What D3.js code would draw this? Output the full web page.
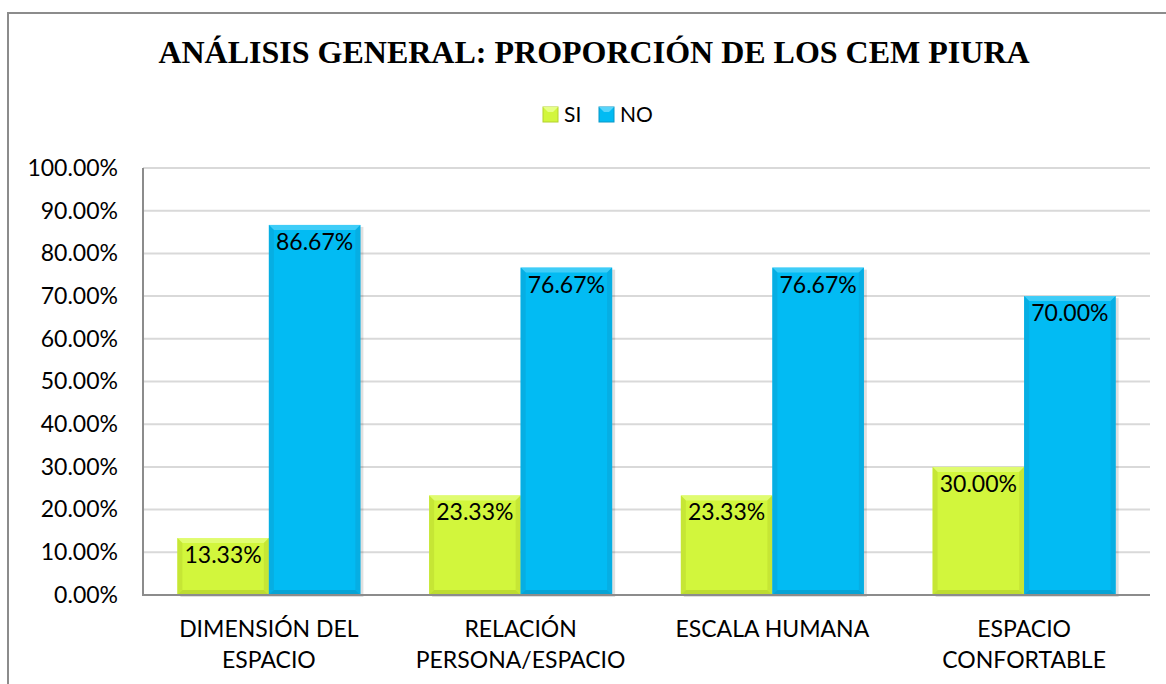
<!DOCTYPE html>
<html>
<head>
<meta charset="utf-8">
<script src="https://cdn.jsdelivr.net/npm/d3@7"></script>
<style>
  body { margin: 0; background: #fff; }
  svg { display: block; }
</style>
</head>
<body>
<svg></svg>
<script>
const categories = [
  ['DIMENSIÓN DEL', 'ESPACIO'],
  ['RELACIÓN', 'PERSONA/ESPACIO'],
  ['ESCALA HUMANA'],
  ['ESPACIO', 'CONFORTABLE']
];
const series = ['SI', 'NO'];
const siValues = [0.1333, 0.2333, 0.2333, 0.30];
const noValues = [0.8667, 0.7667, 0.7667, 0.70];
const yTicks = [0, 0.1, 0.2, 0.3, 0.4, 0.5, 0.6, 0.7, 0.8, 0.9, 1.0];

const svgWidth = 1166;
const svgHeight = 684;
const plot = { left: 143, right: 1150, top: 168, bottom: 595 };

const colors = {
  SI: { body: '#d2f63c', top: '#e6ff86', side: '#c0e032', bottom: '#b4d22c' },
  NO: { body: '#02bbf3', top: '#58d4fa', side: '#08a8dc', bottom: '#0898c8' }
};

const labelFont = 'Lato, "Open Sans", sans-serif';

const svg = d3.select('svg')
    .attr('width', svgWidth)
    .attr('height', svgHeight);

// outer frame (runs off the right and bottom edge)
svg.append('rect')
    .attr('x', 8)
    .attr('y', 13)
    .attr('width', 1200)
    .attr('height', 720)
    .attr('fill', 'none')
    .attr('stroke', '#8c8c8c')
    .attr('stroke-width', 2);

const data = categories.map((c, i) => ({ cat: i, label: c, SI: siValues[i], NO: noValues[i] }));

const x0 = d3.scaleBand()
    .domain(data.map(d => d.cat))
    .range([plot.left, plot.right])
    .paddingInner(0.273)
    .paddingOuter(0.1365);

const x1 = d3.scaleBand()
    .domain(series)
    .range([0, x0.bandwidth()])
    .padding(0);

const y = d3.scaleLinear()
    .domain([0, 1])
    .range([plot.bottom, plot.top]);

// gridlines
svg.append('g')
    .selectAll('line')
    .data(yTicks.filter(t => t > 0))
    .enter()
    .append('line')
    .attr('x1', plot.left)
    .attr('x2', plot.right)
    .attr('y1', d => y(d))
    .attr('y2', d => y(d))
    .attr('stroke', '#d9d9d9')
    .attr('stroke-width', 2);

// y axis labels
const yAxis = svg.append('g')
    .attr('transform', `translate(${plot.left}, 0)`)
    .call(d3.axisLeft(y).tickValues(yTicks).tickFormat(d3.format('.2%')).tickSize(0).tickPadding(25));
yAxis.select('.domain').remove();
yAxis.selectAll('text')
    .attr('font-family', labelFont)
    .attr('font-size', 23)
    .attr('fill', '#000');

// bars
const groups = svg.append('g')
    .selectAll('g')
    .data(data)
    .enter()
    .append('g')
    .attr('transform', d => `translate(${x0(d.cat)}, 0)`);

const bars = groups.selectAll('g')
    .data(d => series.map(s => ({ key: s, value: d[s] })))
    .enter()
    .append('g');

const bev = 5;

// drop shadow
bars.append('rect')
    .attr('x', d => x1(d.key) + 3)
    .attr('y', d => y(d.value) + 2)
    .attr('width', x1.bandwidth())
    .attr('height', d => plot.bottom - y(d.value))
    .attr('fill', 'rgba(0,0,0,0.12)');

bars.append('rect')
    .attr('x', d => x1(d.key))
    .attr('y', d => y(d.value))
    .attr('width', x1.bandwidth())
    .attr('height', d => plot.bottom - y(d.value))
    .attr('fill', d => colors[d.key].body);

function bevelPath(d, side) {
  const l = x1(d.key), r = l + x1.bandwidth();
  const t = y(d.value), b = plot.bottom;
  if (side === 'top') return `M${l},${t}L${r},${t}L${r - bev},${t + bev}L${l + bev},${t + bev}Z`;
  if (side === 'left') return `M${l},${t}L${l + bev},${t + bev}L${l + bev},${b - bev}L${l},${b}Z`;
  if (side === 'right') return `M${r},${t}L${r},${b}L${r - bev},${b - bev}L${r - bev},${t + bev}Z`;
  return `M${l},${b}L${l + bev},${b - bev}L${r - bev},${b - bev}L${r},${b}Z`;
}

['top', 'left', 'right', 'bottom'].forEach(side => {
  bars.append('path')
      .attr('d', d => bevelPath(d, side))
      .attr('fill', d => colors[d.key][side === 'top' ? 'top' : side === 'bottom' ? 'bottom' : 'side'])
      .attr('opacity', 0.7);
});

bars.append('text')
    .attr('x', d => x1(d.key) + x1.bandwidth() / 2)
    .attr('y', d => y(d.value) + 25)
    .attr('text-anchor', 'middle')
    .attr('font-family', labelFont)
    .attr('font-size', 23)
    .attr('fill', '#000')
    .text(d => d3.format('.2%')(d.value));

// axis lines
svg.append('line')
    .attr('x1', plot.left).attr('x2', plot.left)
    .attr('y1', plot.top).attr('y2', plot.bottom + 1)
    .attr('stroke', '#8c8c8c').attr('stroke-width', 2);
svg.append('line')
    .attr('x1', plot.left).attr('x2', plot.right)
    .attr('y1', plot.bottom).attr('y2', plot.bottom)
    .attr('stroke', '#8c8c8c').attr('stroke-width', 2);

// category labels
const catLabels = svg.append('g')
    .selectAll('text')
    .data(data)
    .enter()
    .append('text')
    .attr('text-anchor', 'middle')
    .attr('font-family', labelFont)
    .attr('font-size', 23)
    .attr('fill', '#000');

catLabels.selectAll('tspan')
    .data(d => d.label.map(line => ({ line, cat: d.cat })))
    .enter()
    .append('tspan')
    .attr('x', d => x0(d.cat) + x0.bandwidth() / 2)
    .attr('y', (d, i) => 637 + i * 31)
    .text(d => d.line);

// title
svg.append('text')
    .attr('x', 594)
    .attr('y', 63)
    .attr('text-anchor', 'middle')
    .attr('font-family', '"Liberation Serif", "Times New Roman", serif')
    .attr('font-weight', 'bold')
    .attr('font-size', 32)
    .attr('fill', '#000')
    .text('ANÁLISIS GENERAL: PROPORCIÓN DE LOS CEM PIURA');

// legend
const legendX = [543, 599];
const legend = svg.append('g')
    .selectAll('g')
    .data(series)
    .enter()
    .append('g')
    .attr('transform', (d, i) => `translate(${legendX[i]}, 107)`);

legend.append('rect')
    .attr('width', 15)
    .attr('height', 15)
    .attr('fill', d => colors[d].body)
    .attr('stroke', d => colors[d].bottom)
    .attr('stroke-width', 1);

legend.append('path')
    .attr('d', 'M0,0L15,0L10,5L5,5Z')
    .attr('fill', d => colors[d].top);

legend.append('text')
    .attr('x', 21)
    .attr('y', 15)
    .attr('font-family', labelFont)
    .attr('font-size', 21)
    .attr('fill', '#000')
    .text(d => d);
</script>
</body>
</html>
